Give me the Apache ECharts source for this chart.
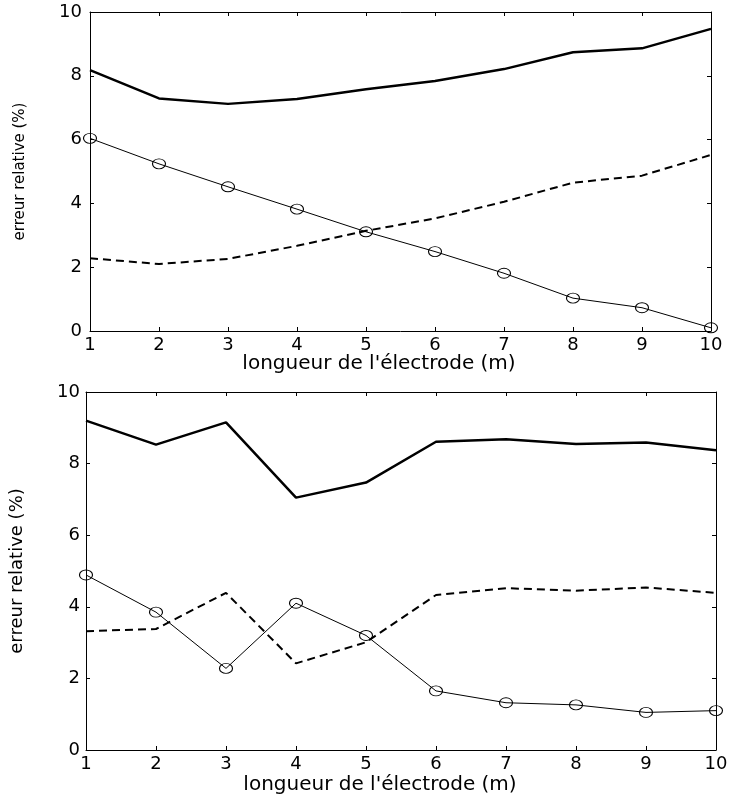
<!DOCTYPE html>
<html>
<head>
<meta charset="utf-8">
<title>erreur relative</title>
<script src="https://cdn.jsdelivr.net/npm/echarts@6/dist/echarts.min.js"></script>
<style>
  html, body { margin: 0; padding: 0; background: #fff; }
  #chart { width: 731px; height: 803px; }
</style>
</head>
<body>
<div id="chart"></div>
<script>
// electrode length (m)
const lengths = [1, 2, 3, 4, 5, 6, 7, 8, 9, 10];

// upper panel
const topSolid  = [8.18, 7.29, 7.12, 7.27, 7.58, 7.84, 8.21, 8.74, 8.86, 9.47];
const topCircle = [6.04, 5.24, 4.52, 3.82, 3.11, 2.49, 1.81, 1.03, 0.73, 0.10];
const topDashed = [2.28, 2.10, 2.26, 2.67, 3.14, 3.53, 4.05, 4.65, 4.87, 5.52];

// lower panel
const botSolid  = [9.20, 8.53, 9.15, 7.05, 7.47, 8.61, 8.68, 8.55, 8.59, 8.37];
const botCircle = [4.89, 3.85, 2.28, 4.10, 3.20, 1.65, 1.32, 1.26, 1.05, 1.10];
const botDashed = [3.32, 3.38, 4.39, 2.42, 3.01, 4.33, 4.52, 4.45, 4.54, 4.39];

const xTitle = "longueur de l'électrode (m)";
const yTitle = 'erreur relative (%)';

const FONT = 'DejaVu Sans';
const pair = (ys) => lengths.map((x, i) => [x, ys[i]]);

function xAxes(gridIndex) {
  const base = {
    type: 'value', gridIndex, min: 1, max: 10, interval: 1,
    axisLine: { show: true, onZero: false, lineStyle: { color: '#000', width: 1 } },
    axisTick: { show: true, inside: true, length: 4, lineStyle: { color: '#000' } },
    splitLine: { show: false }
  };
  return [
    Object.assign({}, base, {
      position: 'bottom',
      axisLabel: { color: '#000', fontFamily: FONT, fontSize: 18, margin: 5 }
    }),
    Object.assign({}, base, { position: 'top', axisLabel: { show: false } })
  ];
}

function yAxes(gridIndex, nameSize, nameGap, labelMargin) {
  const base = {
    type: 'value', gridIndex, min: 0, max: 10, interval: 2,
    axisLine: { show: true, onZero: false, lineStyle: { color: '#000', width: 1 } },
    axisTick: { show: true, inside: true, length: 4, lineStyle: { color: '#000' } },
    splitLine: { show: false }
  };
  return [
    Object.assign({}, base, {
      position: 'left',
      name: yTitle, nameLocation: 'middle', nameRotate: 90, nameGap,
      nameTextStyle: { color: '#000', fontFamily: FONT, fontSize: nameSize },
      axisLabel: { color: '#000', fontFamily: FONT, fontSize: 18, margin: labelMargin }
    }),
    Object.assign({}, base, { position: 'right', axisLabel: { show: false } })
  ];
}

function panelSeries(xi, yi, solid, circle, dashed) {
  return [
    {
      type: 'line', xAxisIndex: xi, yAxisIndex: yi, data: pair(solid),
      showSymbol: false, lineStyle: { color: '#000', width: 2.5 }, silent: true
    },
    {
      type: 'line', xAxisIndex: xi, yAxisIndex: yi, data: pair(dashed),
      showSymbol: false, lineStyle: { color: '#000', width: 2, type: [8, 5] }, silent: true
    },
    {
      type: 'line', xAxisIndex: xi, yAxisIndex: yi, data: pair(circle),
      symbol: 'circle', symbolSize: [13, 10],
      itemStyle: { color: 'transparent', borderColor: '#000', borderWidth: 1 },
      lineStyle: { color: '#000', width: 1 }, silent: true
    }
  ];
}

const chart = echarts.init(document.getElementById('chart'), null, { renderer: 'canvas' });

chart.setOption({
  backgroundColor: '#fff',
  animation: false,
  grid: [
    { left: 90, top: 12, width: 621, height: 319 },
    { left: 86, top: 392, width: 630, height: 358 }
  ],
  xAxis: [...xAxes(0), ...xAxes(1)],
  yAxis: [...yAxes(0, 15, 62, 8), ...yAxes(1, 18, 60, 6)],
  series: [
    ...panelSeries(0, 0, topSolid, topCircle, topDashed),
    ...panelSeries(2, 2, botSolid, botCircle, botDashed)
  ],
  graphic: [
    {
      type: 'text', x: 379, y: 364,
      style: { text: xTitle, fill: '#000', font: '20px "DejaVu Sans"', textAlign: 'center', textVerticalAlign: 'middle' }
    },
    {
      type: 'text', x: 380, y: 785,
      style: { text: xTitle, fill: '#000', font: '20px "DejaVu Sans"', textAlign: 'center', textVerticalAlign: 'middle' }
    }
  ]
});
</script>
</body>
</html>
